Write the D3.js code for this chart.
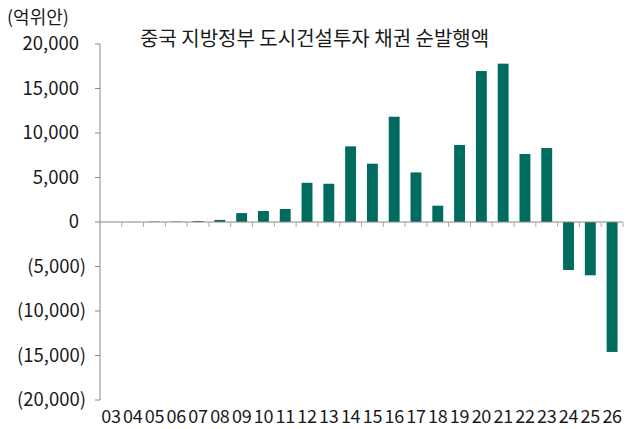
<!DOCTYPE html>
<html><head><meta charset="utf-8">
<script src="https://cdn.jsdelivr.net/npm/d3@7"></script>
<style>
html,body{margin:0;padding:0;background:#fff;}
text{font-family:"Noto Sans CJK KR","Noto Sans",sans-serif;fill:#1a1a1a;}
</style></head>
<body>
<svg id="chart" width="630" height="429"></svg>
<script>
const categories = ["03","04","05","06","07","08","09","10","11","12","13","14","15","16","17","18","19","20","21","22","23","24","25","26"];
const values = [0,10,40,40,100,230,1000,1240,1460,4400,4300,8500,6550,11830,5570,1830,8650,16960,17790,7640,8310,-5390,-5990,-14600];
const yTicks = [20000,15000,10000,5000,0,-5000,-10000,-15000,-20000];
const title = "중국 지방정부 도시건설투자 채권 순발행액";
const unitLabel = "(억위안)";

(function(){
const svg = d3.select("#chart");
const mLeft = 100, mRight = 623, mTop = 44, mBottom = 400;
const x = d3.scaleBand().domain(categories).range([mLeft, mRight]).paddingInner(0.5).paddingOuter(0.25);
const y = d3.scaleLinear().domain([-20000, 20000]).range([mBottom, mTop]);
const color = "#006b5f";

svg.append("g").selectAll("rect").data(values).join("rect")
  .attr("x", (d,i) => x(categories[i]))
  .attr("width", x.bandwidth())
  .attr("y", d => y(Math.max(0,d)))
  .attr("height", d => Math.abs(y(d) - y(0)))
  .attr("fill", color);

const fmt = d3.format(",");
const yAxis = svg.append("g");
yAxis.append("line").attr("x1", mLeft).attr("x2", mLeft).attr("y1", y(20000)).attr("y2", y(-20000)).attr("stroke", "#888").attr("stroke-width", 1);
yAxis.selectAll("line.t").data(yTicks).join("line").attr("class","t")
  .attr("x1", mLeft - 5).attr("x2", mLeft).attr("y1", d => y(d)).attr("y2", d => y(d))
  .attr("stroke", "#888");
yAxis.selectAll("text").data(yTicks).join("text")
  .attr("x", d => d < 0 ? 86 : 79)
  .attr("y", d => y(d))
  .attr("dy", "0.35em")
  .attr("text-anchor", "end")
  .attr("font-size", 18.5)
  .text(d => d < 0 ? "(" + fmt(-d) + ")" : fmt(d));

const xAxis = svg.append("g");
xAxis.append("line").attr("x1", mLeft).attr("x2", mRight).attr("y1", y(0)).attr("y2", y(0)).attr("stroke", "#888");
const step = x.step();
const start = x(categories[0]) - x.paddingOuter()*step;
const bounds = d3.range(1, categories.length + 1).map(i => start + i*step);
xAxis.selectAll("line.t").data(bounds).join("line").attr("class","t")
  .attr("x1", d => d).attr("x2", d => d).attr("y1", y(0)).attr("y2", y(0) + 5)
  .attr("stroke", "#aaa");
xAxis.selectAll("text").data(categories).join("text")
  .attr("x", d => x(d) + x.bandwidth()/2)
  .attr("y", 423)
  .attr("text-anchor", "middle")
  .attr("font-size", 18)
  .attr("letter-spacing", -0.3)
  .text(d => d);

svg.append("text").attr("x", 7).attr("y", 24).attr("font-size", 18).text(unitLabel);
svg.append("text").attr("x", 140).attr("y", 46).attr("font-size", 20).text(title);
})();
</script>
</body></html>
